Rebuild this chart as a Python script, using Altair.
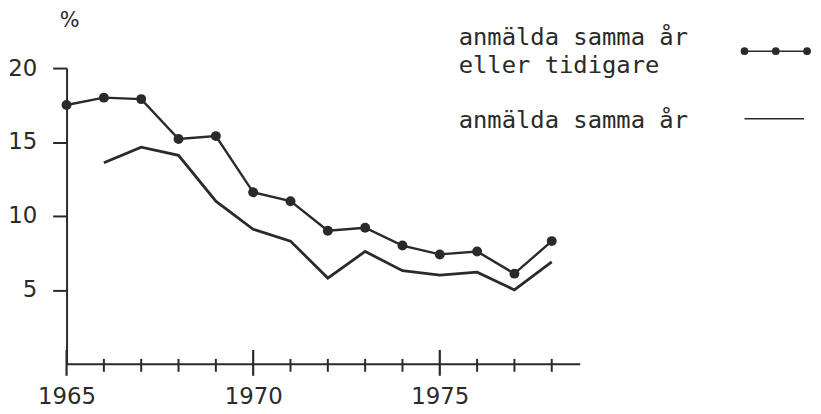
import altair as alt
import pandas as pd

# ---- data ----
years_total = [1965, 1966, 1967, 1968, 1969, 1970, 1971, 1972, 1973, 1974, 1975, 1976, 1977, 1978]
total = [17.5, 18.0, 17.9, 15.2, 15.4, 11.6, 11.0, 9.0, 9.2, 8.0, 7.4, 7.6, 6.1, 8.3]

years_same = [1966, 1967, 1968, 1969, 1970, 1971, 1972, 1973, 1974, 1975, 1976, 1977, 1978]
same = [13.6, 14.65, 14.1, 11.0, 9.1, 8.3, 5.8, 7.6, 6.3, 6.0, 6.2, 5.0, 6.9]

tick_years = list(range(1965, 1979))
major_years = [1965, 1970, 1975]
y_ticks = [5, 10, 15, 20]

label_total_1 = "anmälda samma år"
label_total_2 = "eller tidigare"
label_same = "anmälda samma år"
y_unit = "%"

# ---- layout ----
W, H = 517, 298
INK = "#2a2a2a"
FONT = "DejaVu Sans"
MONO = "DejaVu Sans Mono"

df_total = pd.DataFrame({"year": years_total, "value": total})
df_same = pd.DataFrame({"year": years_same, "value": same})
df_minor = pd.DataFrame({"year": [y for y in tick_years if y not in major_years]})
df_major = pd.DataFrame({"year": major_years})

xscale = alt.Scale(domain=[1965, 1978.75], nice=False, zero=False)
yscale = alt.Scale(domain=[0, 20], nice=False)

xaxis = alt.Axis(values=major_years, format="d", ticks=False, grid=False, title=None,
                 labelFlush=False, labelFontSize=23, labelFont=FONT, labelColor=INK,
                 labelPadding=22, domainColor=INK, domainWidth=2)
yaxis = alt.Axis(values=y_ticks, grid=False, title=None, tickSize=14, tickWidth=2,
                 tickColor=INK, labelFontSize=23, labelFont=FONT, labelColor=INK,
                 labelPadding=16, domainColor=INK, domainWidth=2)

x_enc = alt.X("year:Q", scale=xscale, axis=xaxis)
y_enc = alt.Y("value:Q", scale=yscale, axis=yaxis)

line_total = alt.Chart(df_total).mark_line(color=INK, strokeWidth=2.4).encode(x=x_enc, y=y_enc)
pts_total = alt.Chart(df_total).mark_point(color=INK, filled=True, size=100, opacity=1).encode(x=x_enc, y=y_enc)
line_same = alt.Chart(df_same).mark_line(color=INK, strokeWidth=2.8).encode(x=x_enc, y=y_enc)

# year ticks crossing the x axis line
minor = alt.Chart(df_minor).mark_rule(color=INK, strokeWidth=2).encode(
    x=alt.X("year:Q", scale=xscale, axis=xaxis), y=alt.value(H - 5), y2=alt.value(H + 8))
major = alt.Chart(df_major).mark_rule(color=INK, strokeWidth=2.2).encode(
    x=alt.X("year:Q", scale=xscale, axis=xaxis), y=alt.value(H - 14), y2=alt.value(H + 12))

# "%" unit label above the y axis
unit = alt.Chart(pd.DataFrame({"t": [y_unit]})).mark_text(
    font=FONT, fontSize=21, color=INK, align="center", baseline="middle").encode(
    text="t:N", x=alt.value(3), y=alt.value(-47))

# ---- legend (drawn manually: label left, symbol right) ----
def legend_text(txt, ybase):
    return alt.Chart(pd.DataFrame({"t": [txt]})).mark_text(
        font=MONO, fontSize=24, color=INK, align="left", baseline="alphabetic").encode(
        text="t:N", x=alt.value(395), y=alt.value(ybase))

leg = [legend_text(label_total_1, -23), legend_text(label_total_2, 5), legend_text(label_same, 60)]
one = pd.DataFrame({"k": [0]})
leg.append(alt.Chart(one).mark_rule(color=INK, strokeWidth=1.5).encode(
    x=alt.value(683), x2=alt.value(746), y=alt.value(-17)))
for px in (683, 714.5, 746):
    leg.append(alt.Chart(one).mark_point(color=INK, filled=True, size=60, opacity=1).encode(
        x=alt.value(px), y=alt.value(-17)))
leg.append(alt.Chart(one).mark_rule(color=INK, strokeWidth=1.5).encode(
    x=alt.value(683), x2=alt.value(743), y=alt.value(51)))

chart = alt.layer(line_same, line_total, pts_total, minor, major, unit, *leg).properties(
    width=W, height=H,
    autosize=alt.AutoSizeParams(type="none"),
    padding={"left": 59, "top": 59, "right": 235, "bottom": 48},
    background="white",
).configure_view(stroke=None)

chart.save("out.html", embed_options={"renderer": "svg", "actions": False})
